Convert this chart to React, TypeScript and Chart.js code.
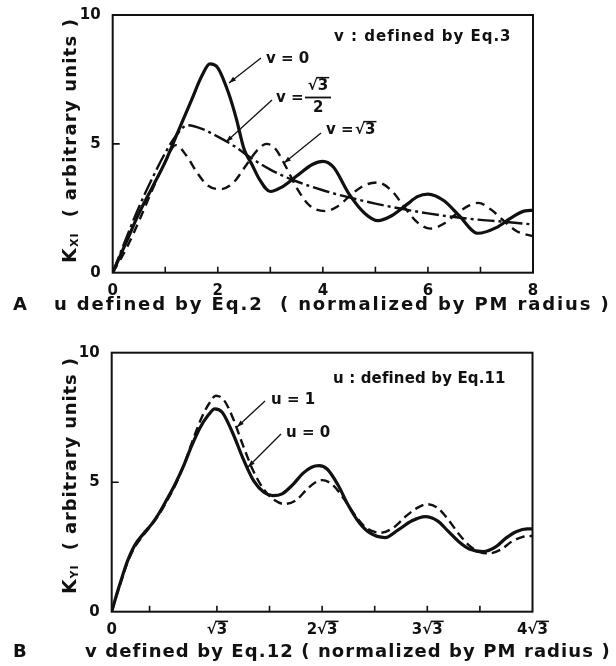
import React, { useEffect, useRef } from "react";
import { Chart, registerables } from "chart.js";
Chart.register(...registerables);

const FONT = '"DejaVu Sans", sans-serif';

// ---------------- Panel A : K_XI vs u (normalized by PM radius) ----------------
const aXLabelTicks = [0, 2, 4, 6, 8];
const aXMinorTicks = [1, 2, 3, 4, 5, 6, 7];
const aYLabelTicks = [0, 5, 10];
const aYMinorTicks = [5];

// v = 0 (solid)
const v0U = [0, 0.25, 0.5, 0.75, 1.0, 1.25, 1.5, 1.7, 1.85, 2.0, 2.2, 2.35, 2.5, 2.65, 2.8, 3.0, 3.2, 3.5, 3.8, 4.0, 4.2, 4.5, 4.8, 5.05, 5.3, 5.6, 5.8, 6.0, 6.3, 6.6, 6.95, 7.3, 7.6, 7.85, 8.0];
const v0K = [0, 1.15, 2.3, 3.3, 4.3, 5.5, 6.7, 7.65, 8.1, 7.95, 7.0, 6.0, 4.8, 4.2, 3.6, 3.15, 3.3, 3.75, 4.2, 4.32, 4.1, 3.05, 2.3, 2.02, 2.2, 2.65, 2.95, 3.05, 2.8, 2.2, 1.53, 1.75, 2.15, 2.4, 2.42];

// v = sqrt(3)/2 (dash-dot)
const vHalfRoot3U = [0, 0.25, 0.5, 0.75, 1.0, 1.2, 1.42, 1.7, 2.0, 2.3, 2.6, 3.0, 3.45, 4.0, 4.5, 5.0, 5.5, 6.0, 6.5, 7.0, 7.5, 8.0];
const vHalfRoot3K = [0, 1.3, 2.55, 3.65, 4.65, 5.3, 5.72, 5.58, 5.28, 4.93, 4.5, 4.0, 3.58, 3.2, 2.92, 2.68, 2.48, 2.3, 2.16, 2.05, 1.97, 1.87];

// v = sqrt(3) (dashed)
const vRoot3U = [0, 0.25, 0.5, 0.75, 1.0, 1.2, 1.4, 1.6, 1.8, 2.05, 2.3, 2.55, 2.75, 2.93, 3.1, 3.3, 3.5, 3.75, 4.05, 4.3, 4.55, 4.8, 5.04, 5.3, 5.55, 5.8, 6.05, 6.3, 6.55, 6.8, 6.96, 7.2, 7.45, 7.7, 8.0];
const vRoot3K = [0, 0.9, 2.0, 3.2, 4.3, 4.95, 4.55, 3.9, 3.4, 3.24, 3.5, 4.2, 4.75, 5.0, 4.8, 4.1, 3.3, 2.6, 2.39, 2.6, 3.05, 3.4, 3.5, 3.2, 2.55, 1.95, 1.71, 1.9, 2.3, 2.62, 2.71, 2.45, 2.0, 1.6, 1.42];

// ---------------- Panel B : K_YI vs v (in units of sqrt(3)) ----------------
const bXLabelTicks = [0, 1, 2, 3, 4];
const bXTickLabels = ["0", "√3", "2√3", "3√3", "4√3"];
const bXMinorTicks = [0.36, 1, 1.5, 2, 2.5, 3, 3.5];
const bYLabelTicks = [0, 5, 10];
const bYMinorTicks = [5];

// u = 0 (solid)
const u0V = [0, 0.05, 0.1, 0.15, 0.22, 0.3, 0.38, 0.45, 0.52, 0.6, 0.68, 0.76, 0.84, 0.92, 0.98, 1.05, 1.15, 1.25, 1.35, 1.45, 1.53, 1.62, 1.72, 1.82, 1.9, 1.97, 2.05, 2.15, 2.25, 2.35, 2.45, 2.6, 2.72, 2.85, 2.98, 3.1, 3.2, 3.3, 3.4, 3.53, 3.65, 3.75, 3.85, 3.95, 4.0];
const u0K = [0, 0.7, 1.35, 1.95, 2.57, 3.0, 3.38, 3.8, 4.3, 4.9, 5.6, 6.4, 7.1, 7.6, 7.83, 7.7, 6.9, 5.9, 5.05, 4.6, 4.48, 4.55, 4.9, 5.35, 5.58, 5.64, 5.5, 4.9, 4.1, 3.45, 3.05, 2.86, 3.15, 3.5, 3.67, 3.5, 3.1, 2.7, 2.42, 2.32, 2.5, 2.85, 3.1, 3.2, 3.2];

// u = 1 (dashed)
const u1V = [0, 0.05, 0.1, 0.15, 0.22, 0.3, 0.38, 0.45, 0.52, 0.6, 0.68, 0.76, 0.84, 0.92, 0.99, 1.07, 1.15, 1.25, 1.35, 1.45, 1.55, 1.64, 1.75, 1.85, 1.93, 2.0, 2.1, 2.2, 2.3, 2.4, 2.5, 2.56, 2.68, 2.8, 2.9, 3.0, 3.1, 3.2, 3.3, 3.4, 3.5, 3.58, 3.7, 3.8, 3.9, 4.0];
const u1K = [0, 0.68, 1.3, 1.9, 2.5, 2.95, 3.35, 3.75, 4.25, 4.85, 5.6, 6.5, 7.35, 8.0, 8.34, 8.15, 7.5, 6.4, 5.4, 4.7, 4.3, 4.16, 4.3, 4.7, 4.98, 5.08, 4.9, 4.4, 3.8, 3.3, 3.08, 3.05, 3.25, 3.7, 4.0, 4.15, 4.0, 3.55, 3.0, 2.55, 2.3, 2.25, 2.4, 2.7, 2.88, 2.93];

const pts = (xs: number[], ys: number[]) => xs.map((x, i) => ({ x, y: ys[i] }));

// ---------------- drawing helpers ----------------
function fitText(ctx: CanvasRenderingContext2D, text: string, x: number, y: number, size: number, width?: number, ls0 = 0) {
  ctx.save();
  ctx.font = `bold ${size}px ${FONT}`;
  ctx.textBaseline = "middle";
  ctx.textAlign = "left";
  (ctx as any).letterSpacing = "0px";
  const w = ctx.measureText(text).width;
  let ls = ls0;
  if (width) ls = (width - w) / Math.max(1, text.length - 1);
  (ctx as any).letterSpacing = ls + "px";
  ctx.fillStyle = "#111";
  ctx.fillText(text, x, y);
  ctx.restore();
}

function rootText(ctx: CanvasRenderingContext2D, prefix: string, x: number, y: number, size: number, align: "left" | "center") {
  ctx.save();
  ctx.font = `bold ${size}px ${FONT}`;
  ctx.textBaseline = "middle";
  ctx.textAlign = "left";
  const full = prefix + "√3";
  const wAll = ctx.measureText(full).width;
  const wPre = ctx.measureText(prefix + "√").width;
  const x0 = align === "center" ? x - wAll / 2 : x;
  ctx.fillStyle = "#111";
  ctx.fillText(full, x0, y);
  const m = ctx.measureText("√");
  const yTop = y - m.actualBoundingBoxAscent;
  ctx.strokeStyle = "#111";
  ctx.lineWidth = 1.5;
  ctx.beginPath();
  ctx.moveTo(x0 + wPre - 1.5, yTop + 0.75);
  ctx.lineTo(x0 + wAll + 1, yTop + 0.75);
  ctx.stroke();
  ctx.restore();
}

function arrow(ctx: CanvasRenderingContext2D, x1: number, y1: number, x2: number, y2: number) {
  ctx.save();
  ctx.strokeStyle = "#111";
  ctx.fillStyle = "#111";
  ctx.lineWidth = 1.3;
  ctx.beginPath();
  ctx.moveTo(x1, y1);
  ctx.lineTo(x2, y2);
  ctx.stroke();
  const a = Math.atan2(y2 - y1, x2 - x1);
  const L = 7, H = 2.4;
  ctx.beginPath();
  ctx.moveTo(x2, y2);
  ctx.lineTo(x2 - L * Math.cos(a) + H * Math.sin(a), y2 - L * Math.sin(a) - H * Math.cos(a));
  ctx.lineTo(x2 - L * Math.cos(a) - H * Math.sin(a), y2 - L * Math.sin(a) + H * Math.cos(a));
  ctx.closePath();
  ctx.fill();
  ctx.restore();
}

type Seg = { t: string; size: number; dy?: number };
function verticalTitle(ctx: CanvasRenderingContext2D, segs: Seg[], cx: number, cy: number, len: number) {
  ctx.save();
  ctx.translate(cx, cy);
  ctx.rotate(-Math.PI / 2);
  ctx.textBaseline = "middle";
  ctx.textAlign = "left";
  ctx.fillStyle = "#111";
  let w0 = 0, n = 0;
  for (const s of segs) {
    ctx.font = `bold ${s.size}px ${FONT}`;
    w0 += ctx.measureText(s.t).width;
    n += s.t.length;
  }
  const ls = (len - w0) / Math.max(1, n - 1);
  (ctx as any).letterSpacing = ls + "px";
  let x = -len / 2;
  for (const s of segs) {
    ctx.font = `bold ${s.size}px ${FONT}`;
    ctx.fillText(s.t, x, s.dy || 0);
    x += ctx.measureText(s.t).width;
  }
  ctx.restore();
}

function frameAndTicks(chart: any, xMinor: number[], yMinor: number[]) {
  const ctx: CanvasRenderingContext2D = chart.ctx;
  const { left, top, right, bottom } = chart.chartArea;
  const xs = chart.scales.x, ys = chart.scales.y;
  ctx.save();
  ctx.strokeStyle = "#111";
  ctx.lineWidth = 2;
  ctx.strokeRect(left, top, right - left, bottom - top);
  ctx.lineWidth = 1.6;
  ctx.beginPath();
  for (const v of xMinor) {
    const px = xs.getPixelForValue(v);
    ctx.moveTo(px, bottom);
    ctx.lineTo(px, bottom - 6);
  }
  for (const v of yMinor) {
    const py = ys.getPixelForValue(v);
    ctx.moveTo(left, py);
    ctx.lineTo(left + 7, py);
  }
  ctx.stroke();
  ctx.restore();
}

const tickFont = { family: FONT, size: 15, weight: "bold" as const };

function baseOptions(opts: {
  xMax: number; xTicks: number[]; xLabel: (v: number) => string; yTicks: number[];
  padTop: number; padRight: number; yWidth: number; xHeight: number;
}) {
  return {
    animation: false,
    responsive: false,
    devicePixelRatio: 1,
    layout: { padding: { left: 0, top: opts.padTop, right: opts.padRight, bottom: 0 } },
    plugins: { legend: { display: false }, tooltip: { enabled: false } },
    elements: { point: { radius: 0 }, line: { cubicInterpolationMode: "monotone" } },
    scales: {
      x: {
        type: "linear",
        min: 0,
        max: opts.xMax,
        afterBuildTicks: (s: any) => { s.ticks = opts.xTicks.map((v) => ({ value: v })); },
        ticks: { padding: 1, font: tickFont, color: "#111", maxRotation: 0, autoSkip: false, callback: (v: any) => opts.xLabel(Number(v)) },
        grid: { display: false },
        border: { display: false },
        afterFit: (s: any) => { s.height = opts.xHeight; },
      },
      y: {
        min: 0,
        max: 10,
        afterBuildTicks: (s: any) => { s.ticks = opts.yTicks.map((v) => ({ value: v })); },
        ticks: { padding: 4, font: tickFont, color: "#111", autoSkip: false, callback: (v: any) => String(v) },
        grid: { display: false },
        border: { display: false },
        afterFit: (s: any) => { s.width = opts.yWidth; },
      },
    },
  };
}

const overlayA = {
  id: "overlayA",
  afterDraw(chart: any) {
    const ctx: CanvasRenderingContext2D = chart.ctx;
    frameAndTicks(chart, aXMinorTicks, aYMinorTicks);
    // annotations
    fitText(ctx, "v : defined by Eq.3", 334, 37, 15, 176);
    fitText(ctx, "v = 0", 266, 59, 15);
    arrow(ctx, 261, 58, 229, 83);
    fitText(ctx, "v =", 276, 98, 15);
    rootText(ctx, "", 318, 86, 15, "center");
    ctx.save();
    ctx.strokeStyle = "#111"; ctx.lineWidth = 1.8;
    ctx.beginPath(); ctx.moveTo(305, 97.5); ctx.lineTo(331, 97.5); ctx.stroke();
    ctx.restore();
    fitText(ctx, "2", 313, 108, 15);
    arrow(ctx, 272, 100, 226, 142);
    fitText(ctx, "v =", 326, 130, 15);
    rootText(ctx, "", 355, 130, 15, "left");
    arrow(ctx, 321, 133, 284, 163);
    // axis titles
    fitText(ctx, "A", 13, 305, 18);
    fitText(ctx, "u defined by Eq.2  ( normalized by PM radius )", 54, 305, 18, 554);
    verticalTitle(ctx, [{ t: "K", size: 19 }, { t: "XI", size: 11, dy: 4 }, { t: "  ( arbitrary units )", size: 18 }], 71, 141, 244);
  },
};

const overlayB = {
  id: "overlayB",
  afterDraw(chart: any) {
    const ctx: CanvasRenderingContext2D = chart.ctx;
    frameAndTicks(chart, bXMinorTicks, bYMinorTicks);
    // overline on sqrt tick labels, placed from the scale's own label layout
    const xs = chart.scales.x;
    const items: any[] = xs._labelItems || [];
    ctx.save();
    ctx.font = `bold ${tickFont.size}px ${FONT}`;
    ctx.strokeStyle = "#111";
    ctx.lineWidth = 1.5;
    items.forEach((it: any) => {
      const lab = String(it.label);
      if (lab.indexOf("√") < 0) return;
      const [tx, ty] = it.options.translation;
      ctx.textBaseline = it.options.textBaseline || "middle";
      const asc = ctx.measureText("√").actualBoundingBoxAscent;
      const yTop = ty + (it.textOffset || 0) - asc;
      const wAll = ctx.measureText(lab).width;
      const wPre = ctx.measureText(lab.slice(0, lab.indexOf("√") + 1)).width;
      const x0 = tx - wAll / 2;
      ctx.beginPath();
      ctx.moveTo(x0 + wPre - 1.5, yTop + 0.75);
      ctx.lineTo(x0 + wAll + 1, yTop + 0.75);
      ctx.stroke();
    });
    ctx.restore();
    // annotations
    fitText(ctx, "u : defined by Eq.11", 333, 49, 15, 172);
    fitText(ctx, "u = 1", 271, 70, 15);
    arrow(ctx, 265, 71, 237, 97);
    fitText(ctx, "u = 0", 286, 103, 15);
    arrow(ctx, 281, 104, 248, 137);
    // axis titles
    fitText(ctx, "B", 13, 322, 18);
    fitText(ctx, "v defined by Eq.12 ( normalized by PM radius )", 85, 322, 18, 524);
    verticalTitle(ctx, [{ t: "K", size: 19 }, { t: "YI", size: 11, dy: 4 }, { t: "  ( arbitrary units )", size: 18 }], 71, 146, 236);
  },
};

const line = (data: any, width: number, dash: number[]) => ({
  data,
  borderColor: "#111",
  backgroundColor: "#111",
  borderWidth: width,
  borderDash: dash,
  pointRadius: 0,
  fill: false,
  cubicInterpolationMode: "monotone",
});

export default function App() {
  const refA = useRef<HTMLCanvasElement>(null);
  const refB = useRef<HTMLCanvasElement>(null);
  useEffect(() => {
    const a = new Chart(refA.current!, {
      type: "line",
      data: {
        datasets: [
          { label: "v = 0", ...line(pts(v0U, v0K), 3.2, []) },
          { label: "v = √3/2", ...line(pts(vHalfRoot3U, vHalfRoot3K), 2.4, [17, 4, 3, 4]) },
          { label: "v = √3", ...line(pts(vRoot3U, vRoot3K), 2.4, [9, 6]) },
        ],
      },
      options: baseOptions({
        xMax: 8, xTicks: aXLabelTicks, xLabel: (v) => String(v), yTicks: aYLabelTicks,
        padTop: 15, padRight: 83, yWidth: 112.7, xHeight: 330 - 272.7,
      }) as any,
      plugins: [overlayA],
    } as any);
    const b = new Chart(refB.current!, {
      type: "line",
      data: {
        datasets: [
          { label: "u = 0", ...line(pts(u0V, u0K), 3.2, []) },
          { label: "u = 1", ...line(pts(u1V, u1K), 2.4, [9, 5]) },
        ],
      },
      options: baseOptions({
        xMax: 4, xTicks: bXLabelTicks,
        xLabel: (v) => bXTickLabels[bXLabelTicks.indexOf(v)] ?? "",
        yTicks: bYLabelTicks,
        padTop: 22.7, padRight: 83.5, yWidth: 111.7, xHeight: 336 - 281.7,
      }) as any,
      plugins: [overlayB],
    } as any);
    return () => { a.destroy(); b.destroy(); };
  }, []);
  return (
    <div style={{ position: "absolute", left: 0, top: 0, width: 616, height: 666, background: "#fff" }}>
      <canvas ref={refA} width={616} height={330} style={{ position: "absolute", left: 0, top: 0 }} />
      <canvas ref={refB} width={616} height={336} style={{ position: "absolute", left: 0, top: 330 }} />
    </div>
  );
}
